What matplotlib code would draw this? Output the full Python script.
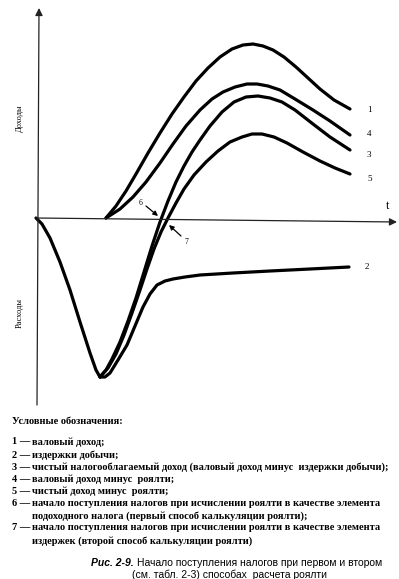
import numpy as np
import matplotlib.pyplot as plt

# schematic values (t from the origin, value up = income, down = costs)
t1 = [70, 80, 90, 100, 112, 124, 136, 148, 160, 172, 184, 196, 207, 217, 227, 237, 248, 260, 272, 284, 298, 314]
v1 = [0, 12, 27, 44, 65, 85, 104, 121, 137, 150, 161, 169, 173, 174, 172, 168, 161, 151, 140, 129, 118, 109]

t4 = [70, 84, 97, 110, 124, 137, 150, 164, 176, 187, 199, 211, 221, 232, 244, 259, 277, 294, 314]
v4 = [0, 9, 21, 36, 55, 74, 92, 108, 119, 126, 131, 134, 134, 132, 128, 119, 108, 97, 83]

t3 = [64, 70, 76, 84, 92, 100, 108, 116, 124, 132, 140, 148, 156, 164, 174, 186, 198, 210, 222, 234, 246, 259, 277, 294, 314]
v3 = [-159, -152, -141, -124, -103, -80, -54, -28, -4, 17, 36, 52, 66, 78, 92, 106, 116, 121, 122, 120, 116, 108, 94, 81, 68]

t5 = [64, 72, 80, 88, 96, 104, 111, 118, 125, 132, 140, 148, 158, 170, 182, 194, 206, 216, 226, 238, 251, 267, 284, 299, 314]
v5 = [-159, -150, -136, -117, -95, -72, -51, -31, -14, 0, 15, 29, 43, 56, 67, 76, 81, 84, 84, 81, 75, 66, 57, 50, 44]

t2 = [0, 6, 14, 24, 34, 44, 54, 60, 64, 69, 74, 82, 91, 99, 107, 114, 121, 129, 137, 149, 164, 197, 234, 274, 313]
v2 = [0, -6, -20, -44, -72, -104, -135, -152, -159, -159, -155, -142, -127, -108, -89, -76, -67, -63, -61, -59, -57, -55, -53, -51, -49]

curve_labels = ['1', '4', '3', '5', '2']
label_t = [331, 331, 331, 331, 329]
label_v = [108, 84, 63, 39, -49]

W, H = 399, 579
fig = plt.figure(figsize=(W / 100, H / 100), dpi=100)
ax = fig.add_axes([0, 0, 1, 1])
ax.set_xlim(-36, W - 36)
ax.set_ylim(218 - H, 218)
ax.axis('off')

serif = 'Liberation Serif'
lw = 2.3
for t, v in [(t1, v1), (t4, v4), (t3, v3), (t5, v5), (t2, v2)]:
    ax.plot(t, v, color='black', lw=lw, solid_joinstyle='round', solid_capstyle='round')

for lab, x, y in zip(curve_labels, label_t, label_v):
    ax.text(x, y, lab, fontsize=6.5, family=serif, ha='left', va='center')

# axes with arrow heads
arr = dict(arrowstyle='-|>', color='#222222', lw=0.9, mutation_scale=11, shrinkA=0, shrinkB=0)
ax.annotate('', xy=(3, 210), xytext=(1, -187), arrowprops=arr)
ax.annotate('', xy=(361, -4), xytext=(0, 0), arrowprops=arr)
ax.text(352, 12, 't', fontsize=9, family=serif, ha='center', va='center')
ax.text(-16, 100, 'Доходы', fontsize=6, family=serif, rotation=90, ha='center', va='center')
ax.text(-16, -95, 'Расходы', fontsize=6, family=serif, rotation=90, ha='center', va='center')

# markers 6 and 7
small = dict(arrowstyle='-|>', color='black', lw=0.9, mutation_scale=7, shrinkA=0, shrinkB=0)
ax.annotate('', xy=(122, 2), xytext=(110, 12), arrowprops=small)
ax.text(105, 15, '6', fontsize=5.5, family=serif, ha='center', va='center')
ax.annotate('', xy=(133, -7), xytext=(145, -18), arrowprops=small)
ax.text(150, -24, '7', fontsize=5.5, family=serif, ha='center', va='center')

# legend text below the chart
def fy(py):
    return 1 - py / H

fig.text(12 / W, fy(421), 'Условные обозначения:', fontsize=7.5, family=serif,
         weight='bold', va='center')
rows = [
    ('1 —', 'валовый доход;'),
    ('2 —', 'издержки добычи;'),
    ('3 —', 'чистый налогооблагаемый доход (валовый доход минус  издержки добычи);'),
    ('4 —', 'валовый доход минус  роялти;'),
    ('5 —', 'чистый доход минус  роялти;'),
    ('6 —', 'начало поступления налогов при исчислении роялти в качестве элемента'),
    ('', 'подоходного налога (первый способ калькуляции роялти);'),
    ('7 —', 'начало поступления налогов при исчислении роялти в качестве элемента'),
    ('', 'издержек (второй способ калькуляции роялти)'),
]
row_y = [442, 455, 467, 479, 491, 504, 516, 528, 541]
for (num, txt), py in zip(rows, row_y):
    if num:
        fig.text(12 / W, fy(py), num, fontsize=7.5, family=serif, weight='bold', va='center')
    fig.text(32 / W, fy(py), txt, fontsize=7.5, family=serif, weight='bold', va='center')

fig.text(134 / W, fy(563), 'Рис. 2-9.', fontsize=7.5, family='Liberation Sans',
         weight='bold', style='italic', ha='right', va='center')
fig.text(137 / W, fy(563), 'Начало поступления налогов при первом и втором',
         fontsize=7.5, family='Liberation Sans', ha='left', va='center')
fig.text(229 / W, fy(575), '(см. табл. 2-3) способах  расчета роялти',
         fontsize=7.5, family='Liberation Sans', ha='center', va='center')

fig.savefig('out.png', dpi=100, facecolor='white')
